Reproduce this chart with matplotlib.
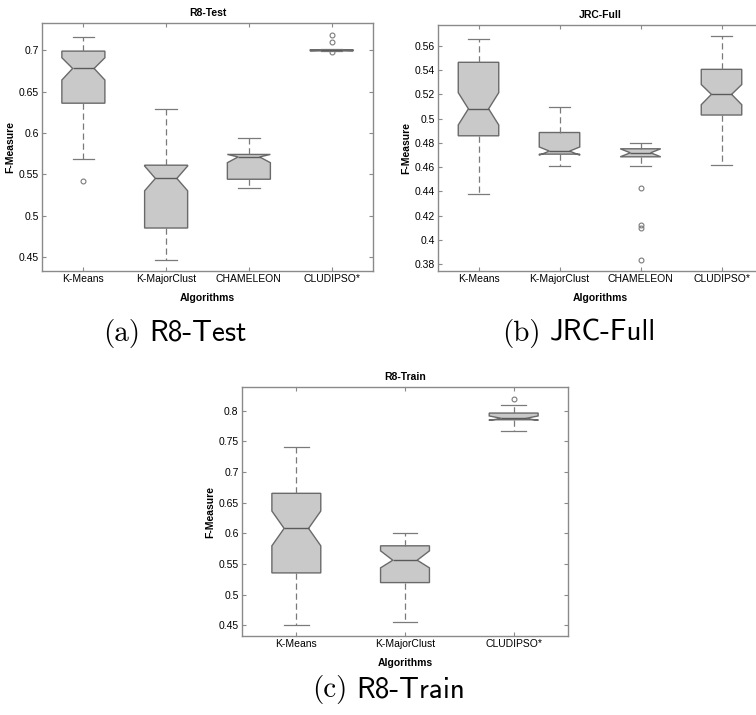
import numpy as np
import matplotlib
matplotlib.use("Agg")
import matplotlib.pyplot as plt
from matplotlib.ticker import FuncFormatter

plt.rcParams['font.family'] = ['Liberation Sans', 'DejaVu Sans']

# ---- data (box plot summaries) ----
# R8-Test
r8test_names = ['K-Means', 'K-MajorClust', 'CHAMELEON', 'CLUDIPSO*']
r8test_whislo = [0.568, 0.446, 0.533, 0.6990]
r8test_q1 = [0.636, 0.485, 0.544, 0.6993]
r8test_cilo = [0.664, 0.530, 0.564, 0.6996]
r8test_med = [0.678, 0.545, 0.571, 0.7000]
r8test_cihi = [0.691, 0.560, 0.574, 0.7004]
r8test_q3 = [0.699, 0.561, 0.574, 0.7007]
r8test_whishi = [0.716, 0.629, 0.594, 0.7010]
r8test_fliers = [[0.542], [], [], [0.7185, 0.7097, 0.6980]]
r8test_ticks = [0.45, 0.5, 0.55, 0.6, 0.65, 0.7]

# JRC-Full
jrc_names = ['K-Means', 'K-MajorClust', 'CHAMELEON', 'CLUDIPSO*']
jrc_whislo = [0.4382, 0.4608, 0.4608, 0.4617]
jrc_q1 = [0.4858, 0.4707, 0.4685, 0.5029]
jrc_cilo = [0.4947, 0.4698, 0.4685, 0.5114]
jrc_med = [0.5080, 0.4732, 0.4718, 0.5199]
jrc_cihi = [0.5213, 0.4766, 0.4751, 0.5280]
jrc_q3 = [0.5463, 0.4885, 0.4751, 0.5405]
jrc_whishi = [0.5658, 0.5092, 0.4795, 0.5680]
jrc_fliers = [[], [], [0.4432, 0.4122, 0.4097, 0.3833], []]
jrc_ticks = [0.38, 0.4, 0.42, 0.44, 0.46, 0.48, 0.5, 0.52, 0.54, 0.56]

# R8-Train
r8train_names = ['K-Means', 'K-MajorClust', 'CLUDIPSO*']
r8train_whislo = [0.4511, 0.4560, 0.7667]
r8train_q1 = [0.5355, 0.5197, 0.7853]
r8train_cilo = [0.5797, 0.5437, 0.7842]
r8train_med = [0.6081, 0.5562, 0.7875]
r8train_cihi = [0.6364, 0.5715, 0.7915]
r8train_q3 = [0.6653, 0.5797, 0.7962]
r8train_whishi = [0.7406, 0.5999, 0.8087]
r8train_fliers = [[], [], [0.8191]]
r8train_ticks = [0.45, 0.5, 0.55, 0.6, 0.65, 0.7, 0.75, 0.8]

edge = '#6a6a6a'
fill = '#c9c9c9'
frame = '#8a8a8a'


def make_stats(names, wl, q1, cl, md, ch, q3, wh, fl):
    stats = []
    for i in range(len(names)):
        stats.append(dict(label=names[i], whislo=wl[i], q1=q1[i], cilo=cl[i],
                          med=md[i], cihi=ch[i], q3=q3[i], whishi=wh[i],
                          fliers=fl[i]))
    return stats


def draw(ax, stats, title, ticks, ylim, width):
    ax.bxp(stats, widths=width, shownotches=True, patch_artist=True,
           boxprops=dict(facecolor=fill, edgecolor=edge, linewidth=1.0),
           medianprops=dict(color='#5a5a5a', linewidth=1.0),
           whiskerprops=dict(color='#7a7a7a', linestyle=(0, (5, 3)), linewidth=0.9),
           capprops=dict(color='#7a7a7a', linewidth=0.9),
           flierprops=dict(marker='o', markersize=3.5, markerfacecolor='none',
                           markeredgecolor='#7a7a7a', markeredgewidth=0.8))
    ax.set_xlim(0.5, len(stats) + 0.5)
    ax.set_ylim(*ylim)
    ax.set_yticks(ticks)
    ax.yaxis.set_major_formatter(FuncFormatter(lambda v, p: '%g' % round(v, 3)))
    ax.set_title(title, fontsize=7.5, fontweight='bold', pad=5)
    ax.set_xlabel('Algorithms', fontsize=7.5, fontweight='bold', labelpad=6)
    ax.set_ylabel('F-Measure', fontsize=7.5, fontweight='bold', labelpad=2)
    ax.tick_params(direction='in', length=3, width=0.8, color=frame,
                   top=True, right=True, labelsize=7.5, pad=2.5)
    for sp in ax.spines.values():
        sp.set_color(frame)
        sp.set_linewidth(1.0)


fig = plt.figure(figsize=(7.56, 7.15), dpi=100)

ax1 = fig.add_axes([42 / 756, 1 - 271 / 715, 331 / 756, 248 / 715])
draw(ax1, make_stats(r8test_names, r8test_whislo, r8test_q1, r8test_cilo, r8test_med,
                     r8test_cihi, r8test_q3, r8test_whishi, r8test_fliers),
     'R8-Test', r8test_ticks, (0.433, 0.733), 0.52)

ax2 = fig.add_axes([438 / 756, 1 - 271 / 715, 324 / 756, 246 / 715])
draw(ax2, make_stats(jrc_names, jrc_whislo, jrc_q1, jrc_cilo, jrc_med,
                     jrc_cihi, jrc_q3, jrc_whishi, jrc_fliers),
     'JRC-Full', jrc_ticks, (0.3745, 0.577), 0.5)

ax3 = fig.add_axes([242 / 756, 1 - 636 / 715, 326 / 756, 249 / 715])
draw(ax3, make_stats(r8train_names, r8train_whislo, r8train_q1, r8train_cilo, r8train_med,
                     r8train_cihi, r8train_q3, r8train_whishi, r8train_fliers),
     'R8-Train', r8train_ticks, (0.4326, 0.8387), 0.45)


# subfigure captions: serif label + sans title
def caption(xc, y, lab, txt):
    fig.text(xc - 0.006, y, lab, fontsize=21, family=['cmr10', 'DejaVu Serif'],
             ha='right', va='center')
    fig.text(xc + 0.006, y, txt, fontsize=21, family=['cmss10', 'DejaVu Sans'],
             ha='left', va='center')

caption(145 / 756, 1 - 333 / 715, '(a)', 'R8-Test')
caption(545 / 756, 1 - 333 / 715, '(b)', 'JRC-Full')
caption(352 / 756, 1 - 690 / 715, '(c)', 'R8-Train')

fig.savefig('out.png', dpi=100)
